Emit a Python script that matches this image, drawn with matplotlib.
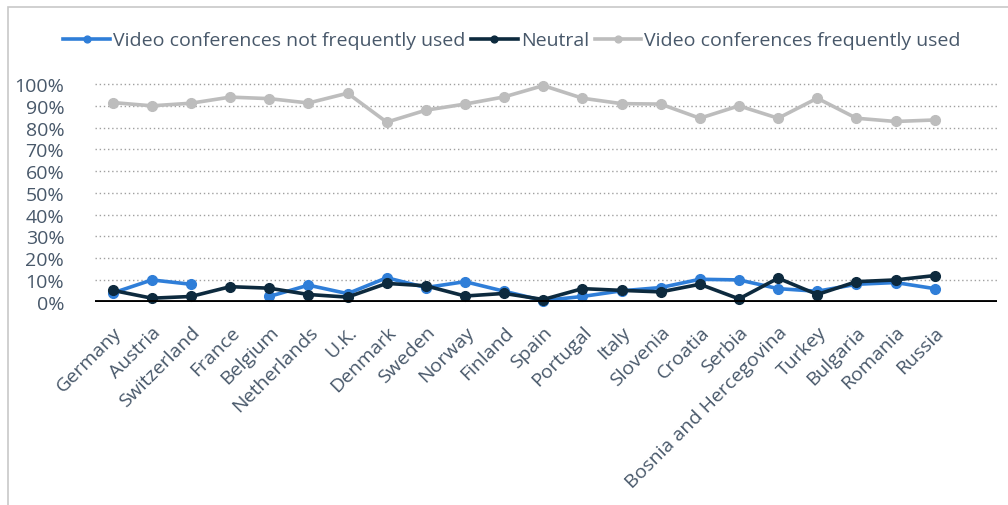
import matplotlib.pyplot as plt
from matplotlib.patches import Rectangle
import numpy as np

plt.rcParams['font.family'] = ['Open Sans', 'DejaVu Sans']

COUNTRIES = ['Germany', 'Austria', 'Switzerland', 'France', 'Belgium', 'Netherlands',
             'U.K.', 'Denmark', 'Sweden', 'Norway', 'Finland', 'Spain', 'Portugal',
             'Italy', 'Slovenia', 'Croatia', 'Serbia', 'Bosnia and Hercegovina',
             'Turkey', 'Bulgaria', 'Romania', 'Russia']
NOT_FREQUENT = [4, 10, 8, np.nan, 2.4, 7.6, 3.7, 11, 6.5, 9.2, 4.8, 0.5, 2.4,
                5, 6.5, 10.3, 10, 6, 4.8, 8, 8.8, 6]
NEUTRAL = [5.2, 1.6, 2.4, 6.9, 6.2, 3.3, 2.1, 8.4, 7.3, 2.6, 3.8, 1, 6,
           5.2, 4.5, 8, 1.3, 10.8, 3.3, 9.2, 10, 12]
FREQUENT = [91.5, 90, 91.2, 94, 93.3, 91.3, 95.8, 82.5, 88, 90.8, 94.1, 99.3, 93.5,
            91, 90.8, 84.3, 90, 84.3, 93.5, 84.3, 82.8, 83.5]
SERIES_NAMES = ['Video conferences not frequently used', 'Neutral',
                'Video conferences frequently used']
COLORS = ['#2f7ed8', '#0d2a3e', '#bdbdbd']
TEXT_COLOR = '#48586a'

fig = plt.figure(figsize=(10.08, 5.06), dpi=100)
fig.patches.append(Rectangle((8 / 1008, -0.01), 1.02, 1 - 8 / 506 + 0.01,
                             transform=fig.transFigure, fill=False,
                             edgecolor='#c8c8c8', linewidth=1.2))

ax = fig.add_axes([0.094, 0.4018, 0.895, 0.443])
x = np.arange(len(COUNTRIES))

handles = []
for name, vals, col in zip(SERIES_NAMES, [NOT_FREQUENT, NEUTRAL, FREQUENT], COLORS):
    h, = ax.plot(x, np.array(vals) / 100, color=col, linewidth=2.6, marker='o',
                 markersize=7, label=name, clip_on=False, zorder=3)
    handles.append(h)

ax.set_xlim(-0.46, 22.59)
ax.set_ylim(0, 1.03)
ax.set_yticks(np.arange(0, 1.01, 0.1))
ax.set_yticklabels([f'{int(round(v * 100))}%' for v in np.arange(0, 1.01, 0.1)])
ax.set_xticks(x)
ax.set_xticklabels(COUNTRIES, rotation=45, ha='right', rotation_mode='anchor')

for v in np.arange(0.1, 1.01, 0.1):
    ax.axhline(v, color='#a0a0a0', linewidth=1, linestyle=(0, (1, 2)), zorder=1)
ax.axhline(0, color='black', linewidth=3.5, zorder=4)

for s in ax.spines.values():
    s.set_visible(False)
ax.tick_params(axis='both', length=0, labelsize=14, labelcolor=TEXT_COLOR)
ax.tick_params(axis='y', pad=22)
ax.tick_params(axis='x', pad=15)

leg = fig.legend(handles=handles, loc='center', bbox_to_anchor=(0.508, 0.918),
                 ncol=3, frameon=False, fontsize=14, handlelength=2.4,
                 handletextpad=0.15, columnspacing=0.3, markerscale=0.7)
for t in leg.get_texts():
    t.set_color(TEXT_COLOR)

fig.savefig('out.png', dpi=100)
